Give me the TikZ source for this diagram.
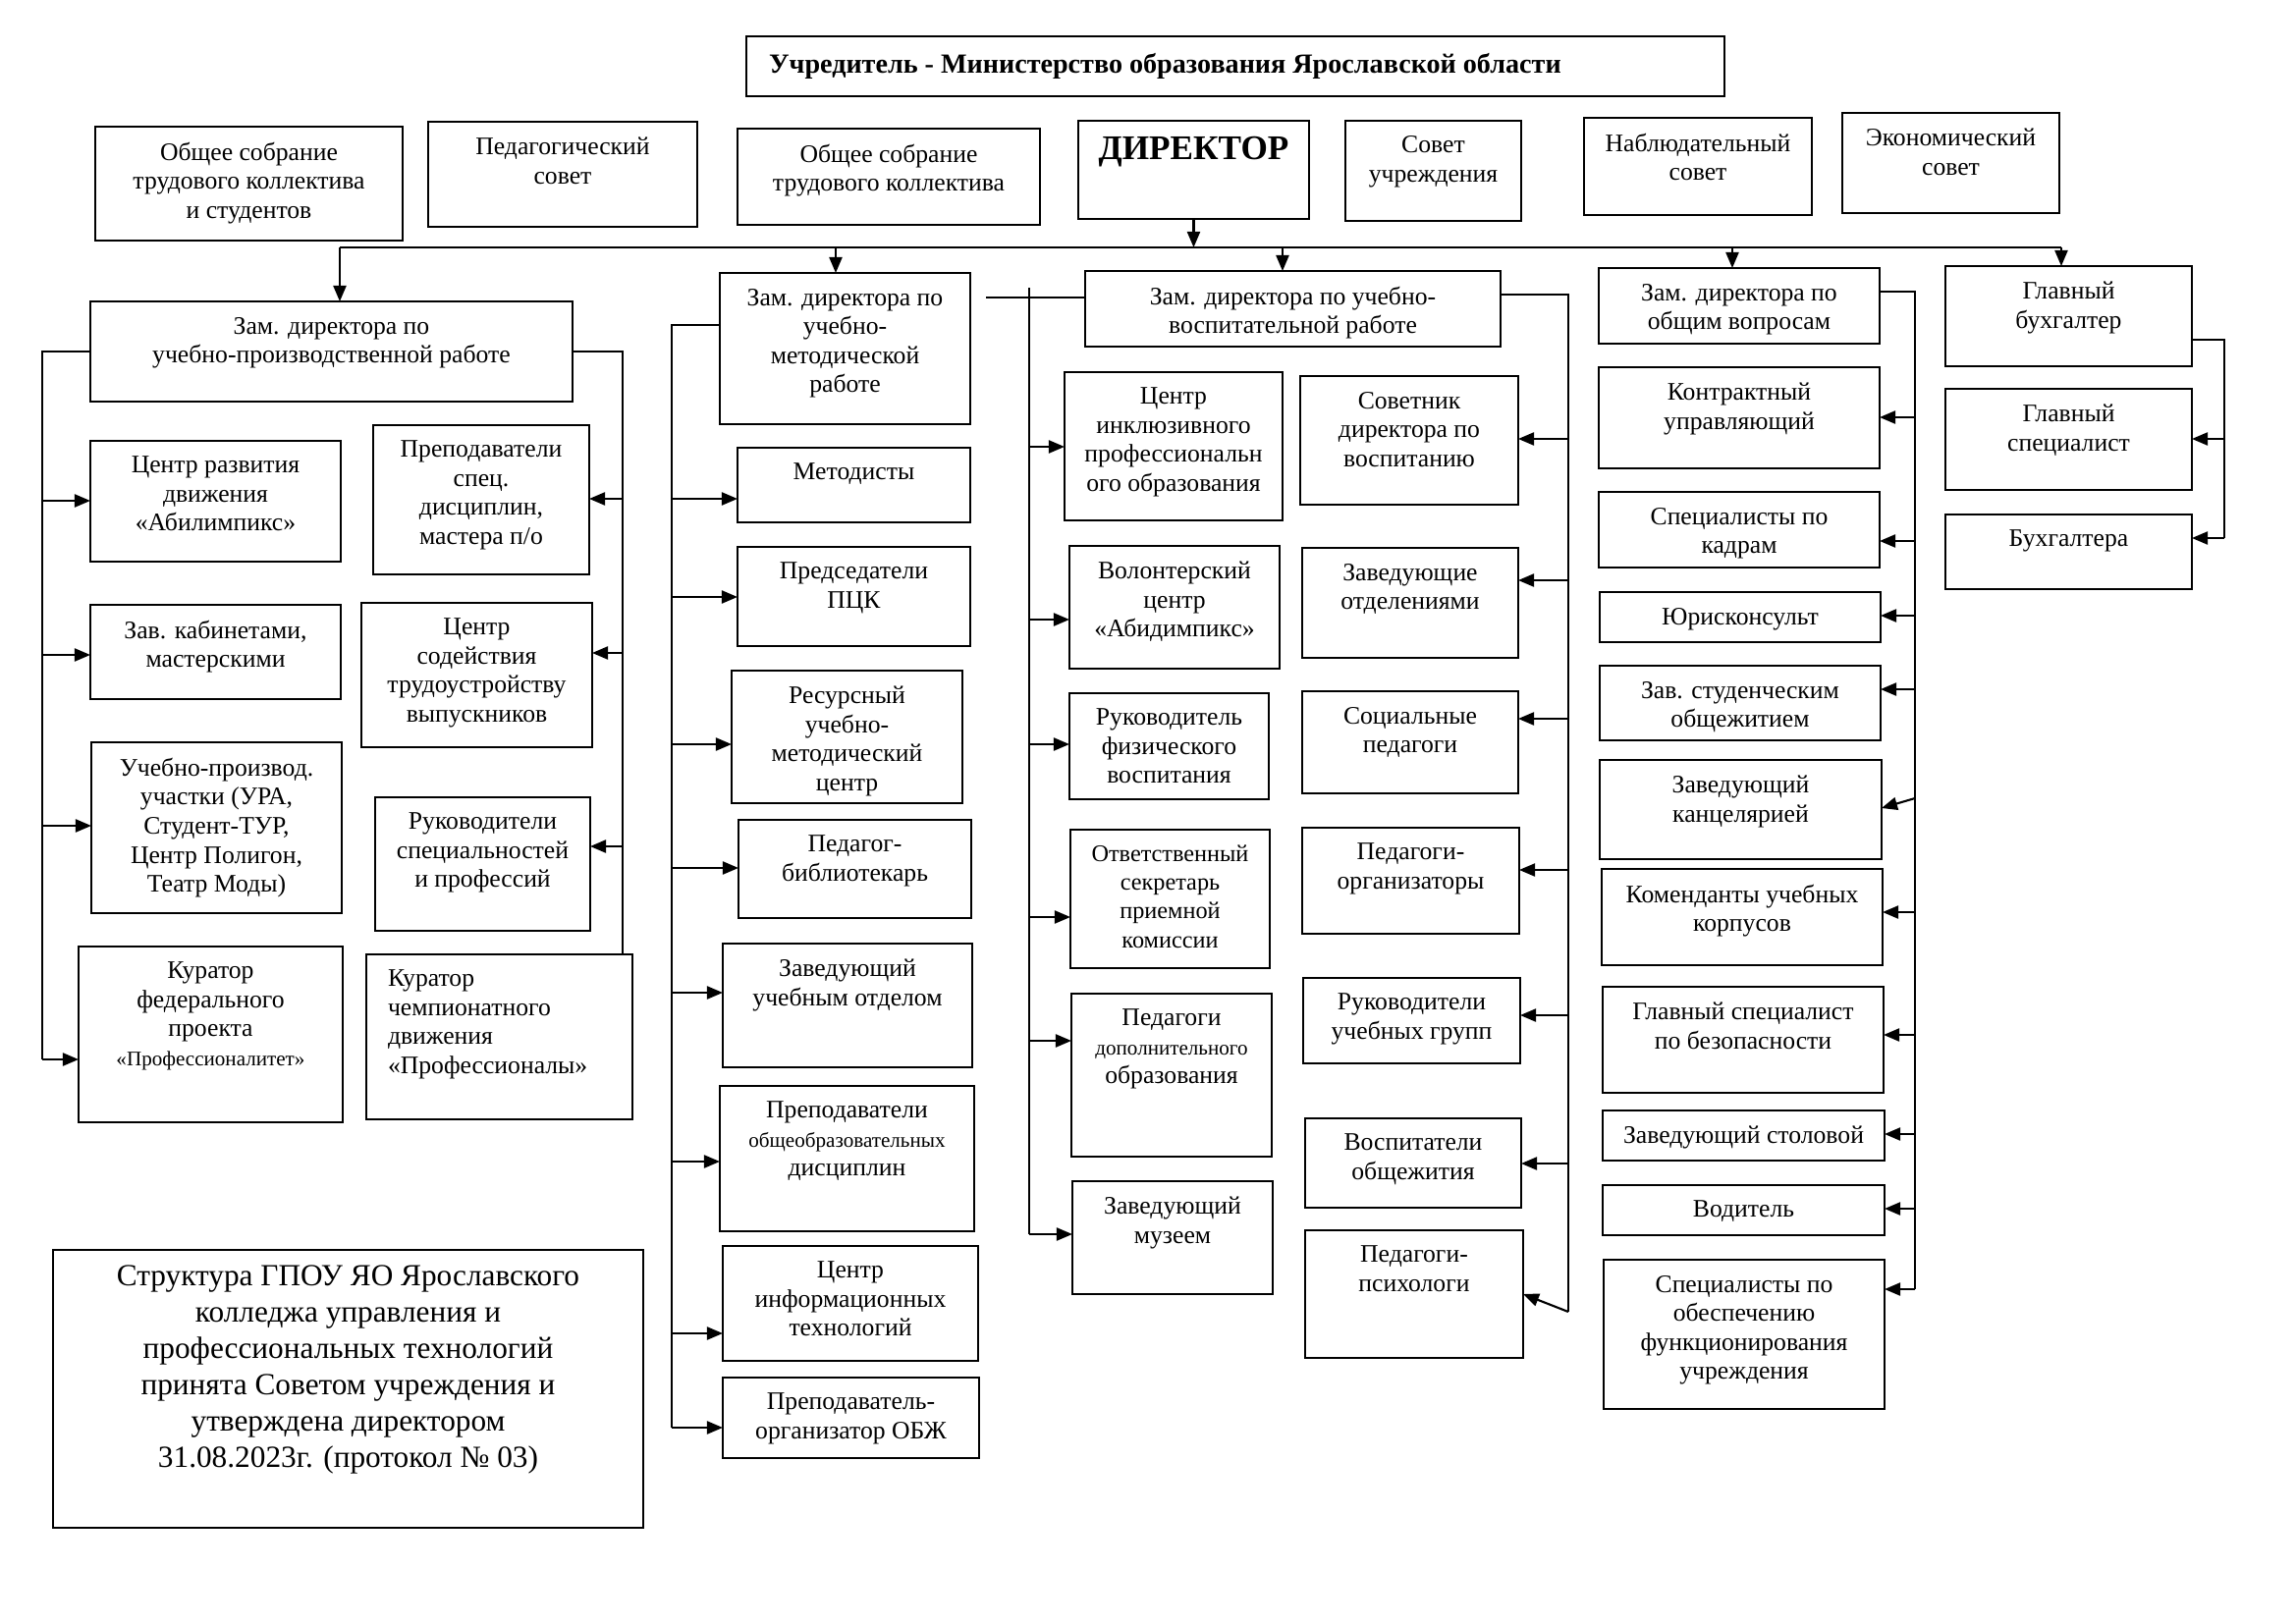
\documentclass[tikz,border=0pt]{standalone}
\usepackage{fontspec}
\setmainfont{Liberation Serif}
\usetikzlibrary{arrows.meta}
\newlength\pxu \setlength\pxu{0.01cm}
\newcommand\fs{\fontsize{7.3}{8.4}\selectfont}
\newcommand\sm{\fontsize{6}{8.4}\selectfont}
% box: [extra code]{name}{x1}{y1}{x2}{y2}{text}
\newcommand\bx[7][]{%
  \node[bx] (#2) at (#3,#4) {\parbox[c][\numexpr#6-#4\relax\pxu][t]{\numexpr#5-#3\relax\pxu}{\centering\vspace*{16\pxu}#1#7\par}};}
% arrow from bracket line to the west side of a node at height y
\newcommand\ra[3]{\draw[arr] (#1 |- 0,#3) -- (#2.west |- 0,#3);}
% arrow from bracket line to the east side of a node at height y
\newcommand\la[3]{\draw[arr] (#1 |- 0,#3) -- (#2.east |- 0,#3);}
\tikzset{
  bx/.style={draw, line width=0.7pt, inner sep=0pt, outer sep=0pt, anchor=north west, font=\fs},
  ln/.style={line width=0.6pt},
  arr/.style={line width=0.6pt, -{Triangle[length=0.16cm,width=0.13cm]}}
}
\begin{document}
\begin{tikzpicture}[x=0.01cm,y=-0.01cm]
\useasboundingbox (0,0) rectangle (2338,1654);
\fill[white] (0,0) rectangle (2338,1654);

% title
\node[bx] (title) at (760,37) {\parbox[c][61\pxu][c]{996\pxu}{\hspace*{23\pxu}\fontsize{8}{10}\selectfont\bfseries Учредитель - Министерство образования Ярославской области}};

% top row
\bx{osts}{97}{129}{410}{245}{Общее собрание\\трудового коллектива\\и студентов}
\bx{ped}{436}{124}{710}{231}{Педагогический\\совет}
\bx{ost}{751}{131}{1059}{229}{Общее собрание\\трудового коллектива}
\bx[\fontsize{10}{12}\selectfont\bfseries]{dir}{1098}{123}{1333}{223}{ДИРЕКТОР}
\bx{sov}{1370}{123}{1549}{225}{Совет\\учреждения}
\bx{nab}{1613}{120}{1845}{219}{Наблюдательный\\совет}
\bx{eco}{1876}{115}{2097}{217}{Экономический\\совет}

% column 1
\bx{upr}{92}{307}{583}{409}{Зам. директора по\\учебно-производственной работе}
\bx{abil}{92}{449}{347}{572}{Центр развития\\движения\\«Абилимпикс»}
\bx{prsp}{380}{433}{600}{585}{Преподаватели\\спец.\\дисциплин,\\мастера п/о}
\bx{zavk}{92}{616}{347}{712}{Зав. кабинетами,\\мастерскими}
\bx{csod}{368}{614}{603}{761}{Центр\\содействия\\трудоустройству\\выпускников}
\bx{upuch}{93}{756}{348}{930}{Учебно-производ.\\участки (УРА,\\Студент-ТУР,\\Центр Полигон,\\Театр Моды)}
\bx{rukspec}{382}{812}{601}{948}{Руководители\\специальностей\\и профессий}
\bx{kfed}{80}{964}{349}{1143}{Куратор\\федерального\\проекта\\{\sm «Профессионалитет»}}
\bx[\raggedright\leftskip=22\pxu\relax]{kchemp}{373}{972}{644}{1140}{Куратор\\чемпионатного\\движения\\«Профессионалы»}

% column 2
\bx{umr}{733}{278}{988}{432}{Зам. директора по\\учебно-\\методической\\работе}
\bx{met}{751}{456}{988}{532}{Методисты}
\bx{pck}{751}{557}{988}{658}{Председатели\\ПЦК}
\bx{rumc}{745}{683}{980}{818}{Ресурсный\\учебно-\\методический\\центр}
\bx{bibl}{752}{835}{989}{935}{Педагог-\\библиотекарь}
\bx{zuo}{736}{961}{990}{1087}{Заведующий\\учебным отделом}
\bx{pood}{733}{1106}{992}{1254}{Преподаватели\\{\sm общеобразовательных}\\дисциплин}
\bx{cit}{736}{1269}{996}{1386}{Центр\\информационных\\технологий}
\bx{obzh}{736}{1403}{997}{1485}{Преподаватель-\\организатор ОБЖ}

% column 3
\bx{uvr}{1105}{276}{1528}{353}{Зам. директора по учебно-\\воспитательной работе}
\bx{inkl}{1084}{379}{1306}{530}{Центр\\инклюзивного\\профессиональн\\ого образования}
\bx{vol}{1089}{556}{1303}{681}{Волонтерский\\центр\\«Абидимпикс»}
\bx{fiz}{1089}{706}{1292}{814}{Руководитель\\физического\\воспитания}
\bx[\fontsize{6.9}{8.3}\selectfont]{sekr}{1090}{845}{1293}{986}{Ответственный\\секретарь\\приемной\\комиссии}
\bx{dop}{1091}{1012}{1295}{1178}{Педагоги\\{\sm дополнительного}\\образования}
\bx{muz}{1092}{1203}{1296}{1318}{Заведующий\\музеем}
\bx{sovet}{1324}{383}{1546}{514}{Советник\\директора по\\воспитанию}
\bx{zotd}{1326}{558}{1546}{670}{Заведующие\\отделениями}
\bx{socp}{1326}{704}{1546}{808}{Социальные\\педагоги}
\bx{porg}{1326}{843}{1547}{951}{Педагоги-\\организаторы}
\bx{rukgr}{1327}{996}{1548}{1083}{Руководители\\учебных групп}
\bx{vosp}{1329}{1139}{1549}{1230}{Воспитатели\\общежития}
\bx{psy}{1329}{1253}{1551}{1383}{Педагоги-\\психологи}

% column 4
\bx{ov}{1628}{273}{1914}{350}{Зам. директора по\\общим вопросам}
\bx{kontr}{1628}{374}{1914}{477}{Контрактный\\управляющий}
\bx{kadr}{1628}{501}{1914}{578}{Специалисты по\\кадрам}
\bx{jur}{1629}{603}{1915}{654}{Юрисконсульт}
\bx{obsh}{1629}{678}{1915}{754}{Зав. студенческим\\общежитием}
\bx{kanc}{1629}{774}{1916}{875}{Заведующий\\канцелярией}
\bx{kom}{1631}{885}{1917}{983}{Коменданты учебных\\корпусов}
\bx{bez}{1632}{1005}{1918}{1113}{Главный специалист\\по безопасности}
\bx{stol}{1632}{1131}{1919}{1182}{Заведующий столовой}
\bx{vod}{1632}{1207}{1919}{1258}{Водитель}
\bx{sobesp}{1633}{1283}{1919}{1435}{Специалисты по\\обеспечению\\функционирования\\учреждения}

% column 5
\bx{gbuh}{1981}{271}{2232}{373}{Главный\\бухгалтер}
\bx{gspec}{1981}{396}{2232}{499}{Главный\\специалист}
\bx{buh}{1981}{524}{2232}{600}{Бухгалтера}

% note
\bx[\fontsize{8.9}{10.5}\selectfont]{note}{54}{1273}{655}{1556}{Структура ГПОУ ЯО Ярославского\\колледжа управления и\\профессиональных технологий\\принята Советом учреждения и\\утверждена директором\\31.08.2023г. (протокол № 03)}

% ---------- connectors ----------
\coordinate (busy) at (0,252);
\draw[arr] (dir.south) -- (dir.south |- busy);
\coordinate (busL) at (346,252);
\coordinate (busR) at (2099,252);
\draw[ln] (busL) -- (busR);
\foreach \n/\x in {upr/346,umr/851,uvr/1306,ov/1764,gbuh/2099}
  \draw[arr] (\x,252) -- (\n.north -| \x,0);

% column 1
\coordinate (c1L) at (43,1079);
\draw[ln] (upr.west) -| (c1L);
\ra{c1L}{abil}{510}
\ra{c1L}{zavk}{667}
\ra{c1L}{upuch}{841}
\ra{c1L}{kfed}{1079}
\coordinate (c1R) at (634,0);
\draw[ln] (upr.east) -| (c1R |- kchemp.north);
\la{c1R}{prsp}{508}
\la{c1R}{csod}{665}
\la{c1R}{rukspec}{862}

% column 2
\coordinate (c2L) at (684,1454);
\draw[ln] (umr.west |- 0,331) -| (c2L);
\ra{c2L}{met}{508}
\ra{c2L}{pck}{608}
\ra{c2L}{rumc}{758}
\ra{c2L}{bibl}{884}
\ra{c2L}{zuo}{1011}
\ra{c2L}{pood}{1183}
\ra{c2L}{cit}{1358}
\ra{c2L}{obzh}{1454}

% column 3
\coordinate (c3h) at (1004,303);
\coordinate (c3L) at (1048,1257);
\draw[ln] (uvr.west |- c3h) -- (c3h);
\draw[ln] (c3L |- 0,293) -- (c3L);
\ra{c3L}{inkl}{455}
\ra{c3L}{vol}{631}
\ra{c3L}{fiz}{758}
\ra{c3L}{sekr}{934}
\ra{c3L}{dop}{1060}
\ra{c3L}{muz}{1257}
\coordinate (c3R) at (1597,1336);
\draw[ln] (uvr.east |- 0,300) -| (c3R);
\la{c3R}{sovet}{447}
\la{c3R}{zotd}{591}
\la{c3R}{socp}{732}
\la{c3R}{porg}{886}
\la{c3R}{rukgr}{1034}
\la{c3R}{vosp}{1185}
\draw[arr] (c3R) -- (psy.east);

% column 4
\coordinate (c4R) at (1950,1313);
\draw[ln] (ov.east |- 0,297) -| (c4R);
\la{c4R}{kontr}{425}
\la{c4R}{kadr}{551}
\la{c4R}{jur}{627}
\la{c4R}{obsh}{702}
\draw[arr] (c4R |- 0,813) -- (kanc.east |- 0,823);
\la{c4R}{kom}{929}
\la{c4R}{bez}{1054}
\la{c4R}{stol}{1155}
\la{c4R}{vod}{1231}
\la{c4R}{sobesp}{1313}

% column 5
\coordinate (c5R) at (2265,548);
\draw[ln] (gbuh.east |- 0,346) -| (c5R);
\la{c5R}{gspec}{447}
\la{c5R}{buh}{548}
\end{tikzpicture}
\end{document}
